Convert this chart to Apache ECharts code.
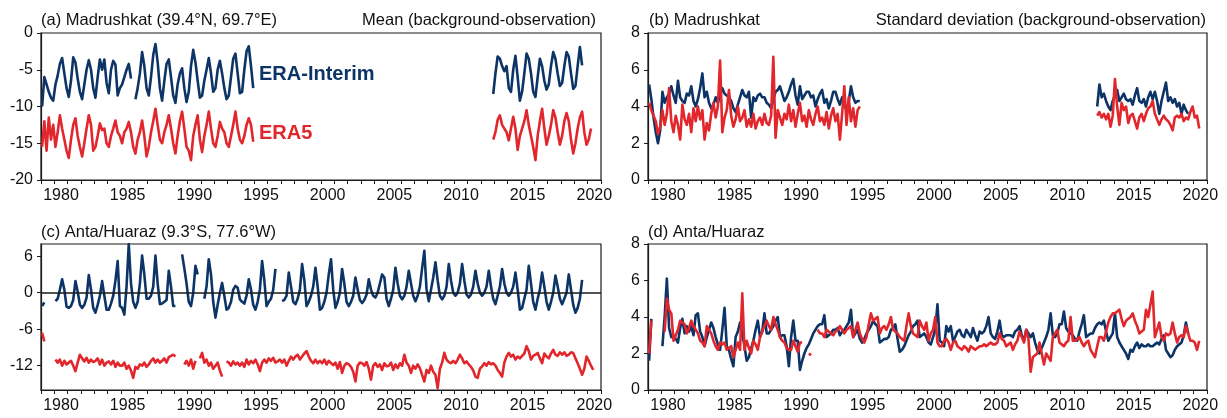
<!DOCTYPE html>
<html><head><meta charset="utf-8">
<script src="https://cdn.jsdelivr.net/npm/echarts@6/dist/echarts.min.js"></script>
<style>html,body{margin:0;padding:0;background:#fff}#c{width:1227px;height:418px}</style>
</head><body><div id="c"></div>
<script>
// ---- tick labels ----
const xLabelYears = [1980, 1985, 1990, 1995, 2000, 2005, 2010, 2015, 2020];
const yTicksA = [-20, -15, -10, -5, 0];
const yTicksBD = [0, 2, 4, 6, 8];
const yTicksC = [-12, -6, 0, 6];

// ---- data: bi-monthly samples, 6 per year, starting at the given year ----
// (a) Madrushkat mean, ERA-Interim
const A_EI_1_START = 1979;
const A_EI_1 = [
 -10.0,-6.0,-7.0,-8.0,-8.8,-9.2,  -7.0,-5.8,-4.2,-3.4,-5.5,-7.5,
 -8.7,-6.5,-3.3,-4.0,-6.2,-8.0,   -9.0,-7.0,-5.0,-3.7,-5.0,-7.5,
 -8.8,-6.0,-3.6,-5.0,-3.6,-6.8,   -8.2,-5.0,-3.8,-4.3,-8.5,-7.5,
 -7.0,-6.0,-5.0,-4.2,-6.2,null,   -9.0,-7.5,-5.5,-2.6,-4.5,-7.5,
 -8.5,-6.0,-3.0,-1.5,-4.0,-7.5,   -9.2,-6.5,-4.2,-3.6,-6.0,-8.5,
 -9.5,-7.0,-5.5,-4.8,-7.5,-9.4,   -8.0,-4.5,-2.3,-4.0,-6.5,-8.8,
 -8.5,-6.5,-5.0,-3.4,-5.5,-8.0,   -7.5,-5.0,-3.8,-5.5,-7.5,-9.0,
 -8.5,-6.0,-3.5,-2.8,-5.5,-8.2,   -8.0,-5.0,-2.5,-1.8,-4.5,-7.5
];
const A_EI_2_START = 2012;
const A_EI_2 = [
 null,null,null,null,null,-8.3,   -5.5,-3.2,-3.5,-4.5,-5.2,-4.5,
 -7.5,-8.0,-5.0,-3.1,-6.0,-9.2,   -8.0,-5.5,-2.8,-3.5,-5.5,-8.0,
 -8.7,-6.0,-3.5,-4.5,-6.5,-7.7,   -7.0,-4.5,-2.6,-3.5,-5.5,-7.2,
 -6.8,-4.5,-2.6,-3.2,-5.5,-7.6,   -7.2,-4.5,-1.9,-4.4,null,null
];
// (a) Madrushkat mean, ERA5
const A_E5_1_START = 1979;
const A_E5_1 = [
 -15.5,-12.0,-16.0,-11.5,-14.5,-12.5,  -15.5,-13.5,-11.2,-13.0,-14.5,-16.0,
 -17.0,-14.5,-12.5,-11.6,-14.0,-15.5,  -16.8,-15.0,-13.0,-11.2,-12.5,-16.0,
 -15.5,-14.0,-12.3,-13.2,-13.0,-15.0,  -15.5,-14.0,-13.0,-11.9,-13.5,-14.0,
 -15.0,-13.5,-13.0,-12.1,-13.5,-15.5,  -16.4,-14.5,-13.5,-11.9,-14.0,-16.8,
 -15.5,-13.5,-12.0,-10.3,-12.5,-14.5,  -15.0,-13.5,-12.5,-11.2,-13.0,-15.0,
 -16.4,-14.0,-12.0,-10.7,-13.0,-15.5,  -16.0,-17.3,-14.0,-12.5,-11.2,-14.5,
 -16.2,-14.0,-12.5,-10.7,-13.0,-15.0,  -15.5,-14.0,-12.1,-13.0,-13.5,-15.0,
 -15.5,-14.0,-12.5,-10.7,-13.0,-14.5,  -15.0,-14.0,-12.5,-11.6,-12.5,-14.8
];
const A_E5_2_START = 2012;
const A_E5_2 = [
 null,null,null,null,null,-14.5,       -13.5,-11.8,-11.2,-12.5,-13.0,-13.5,
 -14.6,-13.0,-11.4,-13.0,-15.9,-14.0,  -13.0,-12.0,-10.5,-12.5,-14.0,-15.5,
 -17.3,-14.0,-12.0,-10.3,-13.0,-15.2,  -14.0,-12.5,-10.5,-11.5,-13.5,-15.2,
 -14.0,-12.0,-10.9,-12.0,-14.5,-16.4,  -15.0,-13.0,-11.5,-10.7,-13.5,-15.2,
 -14.5,-13.0,null,null,null,null
];

// (b) Madrushkat standard deviation, ERA-Interim
const B_EI_1_START = 1979;
const B_EI_1 = [
 5.2,4.4,3.4,2.6,2.0,2.7,  4.8,4.2,4.5,4.7,5.1,4.6,
 4.2,5.4,4.5,4.3,4.2,4.7,  4.6,5.1,4.3,4.0,4.4,5.0,
 5.8,4.5,4.8,4.2,3.9,4.1,  4.5,4.2,4.6,5.0,4.7,4.6,
 4.5,4.3,3.9,3.7,4.1,4.5,  4.9,4.6,4.5,4.8,3.4,4.5,
 4.3,4.6,4.7,4.5,4.5,4.2,  4.1,3.9,4.4,4.8,4.9,5.1,
 4.7,4.3,4.5,4.8,5.2,5.5,  4.6,4.1,5.1,4.4,4.6,4.8,
 4.8,4.5,4.6,4.0,4.4,4.7,  4.9,4.2,4.4,3.9,4.3,4.8,
 4.8,4.4,4.1,4.5,4.1,3.8,  4.3,5.1,4.5,4.2,4.3,4.3
];
const B_EI_2_START = 2012;
const B_EI_2 = [
 null,null,null,null,4.0,5.2,  4.5,4.7,4.3,4.0,3.8,4.3,
 4.6,4.9,4.3,4.5,4.7,4.4,      4.3,4.4,4.1,4.6,5.0,4.3,
 4.2,4.4,4.0,4.5,4.8,4.4,      4.8,4.3,3.6,4.3,4.8,5.3,
 4.3,4.5,4.2,4.4,4.0,4.2,      3.6,4.1,3.8,3.6,null,null
];
// (b) Madrushkat standard deviation, ERA5
const B_E5_1_START = 1979;
const B_E5_1 = [
 4.2,3.8,3.5,3.2,2.5,2.9,  3.8,3.0,3.6,5.0,3.2,2.6,
 3.5,3.0,2.2,4.1,3.3,3.0,  3.6,2.6,3.9,3.2,4.0,3.3,
 3.8,2.2,3.1,2.7,3.6,4.2,  3.4,4.0,6.5,2.6,3.4,3.8,
 4.9,3.5,2.9,3.3,4.0,3.2,  3.4,3.8,2.9,3.3,2.9,3.6,
 2.8,3.2,3.4,3.0,3.6,3.1,  3.0,3.5,6.7,2.3,3.8,3.4,
 3.0,3.6,3.3,4.1,3.2,3.8,  2.9,3.6,4.2,3.2,3.5,2.9,
 3.8,3.3,3.0,3.6,4.0,3.2,  3.4,3.0,3.7,2.8,3.5,3.9,
 3.2,3.6,2.2,3.6,5.1,3.0,  4.5,3.2,3.9,2.9,3.8,4.0
];
const B_E5_2_START = 2012;
const B_E5_2 = [
 null,null,null,null,3.5,3.7,  3.4,3.6,3.3,3.6,2.9,3.5,
 5.5,4.0,3.0,4.2,3.8,4.0,      3.1,3.5,3.6,3.2,2.8,3.4,
 3.6,3.2,3.6,3.9,4.0,4.3,      3.6,3.3,3.0,3.3,3.5,3.3,
 3.2,3.0,2.7,3.4,3.5,3.4,      3.6,3.2,3.4,3.3,3.7,4.0,
 3.4,3.5,2.8,null,null,null
];

// (c) Anta/Huaraz mean, ERA-Interim (1979-2019)
const C_EI_START = 1979;
const C_EI = [
 -2.2,-1.6,null,null,null,null,  -1.4,-1.0,0.5,2.2,0.5,-2.3,
 -2.5,-2.2,-1.2,1.9,0.2,-2.0,    -2.5,-2.0,-0.8,2.9,0.5,-2.5,
 -3.3,-2.0,-0.5,1.9,-0.5,-2.8,   -2.8,-1.8,-0.5,2.0,5.2,-2.2,
 -2.5,-3.6,1.0,8.0,1.5,-1.5,     -2.5,-1.5,1.5,6.1,3.0,-1.0,
 -1.0,-0.5,1.0,6.1,1.5,-1.9,     -1.8,-1.5,-1.2,3.6,1.0,-2.2,
 -2.2,null,null,6.3,4.0,1.5,     -1.5,-2.2,0.0,4.4,3.0,null,
 null,-1.0,1.0,5.5,3.0,-1.5,     -4.1,-2.0,0.0,1.6,-0.5,-2.8,
 -2.5,-1.5,0.5,1.1,0.8,-1.1,     -1.5,-1.8,-0.5,2.2,0.5,-2.0,
 -2.8,-1.5,0.5,5.2,2.0,-2.2,     -1.5,-1.0,0.5,3.9,null,null,
 -1.4,-1.2,-0.5,3.3,1.0,-1.5,    -1.9,-1.0,0.5,4.7,2.0,-2.2,
 -1.5,-0.5,1.0,4.1,1.0,-2.8,     -2.5,-1.5,0.0,3.0,5.5,0.5,
 -2.5,-1.5,0.0,3.9,1.5,-1.5,     -2.2,-1.5,-0.5,2.5,0.5,-1.2,
 -1.7,-1.2,-0.3,2.2,0.5,-0.5,    -0.8,0.0,1.5,3.0,2.5,-1.0,
 -2.2,-1.0,0.5,4.1,1.5,-0.5,     -1.1,-0.5,1.0,3.6,1.5,-0.5,
 -1.4,-0.5,1.0,4.0,6.9,0.5,      -1.4,0.5,2.5,5.0,2.0,-0.5,
 -1.1,-0.5,1.0,4.7,2.0,0.0,      -0.5,0.0,1.5,4.7,2.0,-0.3,
 -0.8,-0.3,1.0,3.6,1.5,0.0,      -0.5,0.0,1.0,3.6,1.0,-1.0,
 -1.9,-0.5,1.0,3.9,1.5,0.0,      -0.5,0.0,1.0,3.3,0.5,-2.8,
 -2.5,-1.0,0.5,4.4,1.5,-1.5,     -2.8,-1.0,0.5,3.3,1.0,-1.5,
 -2.8,-1.5,0.0,2.8,1.0,-1.0,     -1.9,-1.0,0.0,3.0,0.5,-2.0,
 -3.3,-2.5,-1.0,2.1,null,null
];
// (c) Anta/Huaraz mean, ERA5 (1979-2020)
const C_E5_START = 1979;
const C_E5 = [
 -6.6,-8.0,null,null,null,null,        -11.0,-11.5,-11.0,-12.0,-11.2,-11.8,
 -11.5,-11.2,-12.0,-12.9,-11.5,-10.2,  -10.8,-11.3,-10.7,-11.5,-11.0,-11.4,
 -11.2,-10.8,-11.8,-11.0,-12.0,-11.5,  -11.3,-11.8,-11.2,-12.2,-11.5,-12.0,
 -12.0,-11.5,-12.5,-12.0,-12.8,-14.0,  -12.2,-12.5,-11.8,-12.0,-11.5,-12.2,
 -11.8,-11.2,-10.8,-11.5,-11.0,-11.5,  -11.2,-10.8,-11.5,-10.6,-10.4,-10.2,
 -10.5,null,null,null,-11.8,-11.2,     -12.0,-11.0,-12.5,-11.2,null,-10.8,
 -9.9,-11.5,-11.0,-12.0,-11.5,-12.5,   -12.0,-11.5,-12.8,-13.8,null,-11.3,
 -11.5,-12.0,-11.3,-11.8,-11.5,-12.0,  -11.5,-12.2,-11.0,-11.8,-11.2,-11.6,
 -11.0,-11.8,-12.9,-11.5,-11.0,-11.5,  -10.8,-11.2,-10.7,-11.5,-11.3,-11.0,
 -11.5,-11.0,-12.0,-11.2,-10.5,-11.0,  -10.5,-10.2,-11.0,-10.5,-10.0,-9.6,
 -10.5,-11.2,-11.6,-11.0,-11.6,-11.2,  -11.6,-11.0,-11.8,-11.2,-11.6,-11.9,
 -11.5,-12.5,-11.4,-13.2,-12.0,-11.6,  -11.8,-12.2,-13.0,-14.6,-12.0,-11.5,
 -11.6,-12.0,-11.4,-12.5,-14.3,-12.0,  -11.6,-12.2,-11.8,-12.7,-11.6,-12.1,
 -12.0,-11.5,-12.7,-11.8,-12.4,-11.6,  -12.0,-10.2,-11.5,-12.0,-13.2,-12.0,
 -12.5,-11.8,-12.4,-13.5,-14.6,-12.7,  -13.2,-12.0,-13.0,-13.5,-15.7,-12.5,
 -11.5,-9.9,-11.0,-11.4,-11.6,-11.2,   -11.6,-11.0,-10.2,-10.8,-11.6,-11.3,
 -11.8,-12.2,-12.8,-13.8,-14.0,-12.5,  -12.1,-11.6,-12.0,-11.4,-11.8,-11.6,
 -12.0,-12.7,-13.2,-13.8,-11.5,-10.5,  -9.9,-10.5,-10.2,-11.0,-10.5,-10.8,
 -10.4,-10.0,-8.8,-9.6,-11.0,-10.4,    -10.2,-9.9,-10.8,-11.6,-10.0,-10.5,
 -10.8,-10.0,-9.4,-10.2,-10.4,-9.8,    -10.2,-9.8,-10.4,-10.2,-9.8,-9.9,
 -10.8,-11.6,-12.5,-13.5,-12.5,-10.5,  -11.2,-12.0,-12.7,null,null,null
];

// (d) Anta/Huaraz standard deviation, ERA-Interim (1979-2019)
const D_EI_START = 1979;
const D_EI = [
 1.6,3.9,null,null,null,null,  2.4,4.0,6.1,3.4,2.9,3.0,
 2.8,2.6,3.4,3.9,3.1,3.5,      3.2,3.5,3.0,4.1,4.2,3.2,
 2.9,2.4,2.9,3.3,3.7,3.4,      2.9,2.5,2.2,3.3,4.5,2.4,
 2.2,1.7,1.3,2.9,3.2,3.7,      3.1,2.4,1.6,1.8,2.3,2.7,
 3.3,3.8,2.9,3.2,4.2,3.1,      3.1,3.3,3.5,3.8,4.0,2.9,
 3.0,3.0,2.4,1.3,2.9,3.8,      2.7,2.7,1.1,1.6,2.0,2.3,
 2.5,2.8,3.1,3.3,3.5,3.6,      3.6,4.1,2.9,3.0,3.1,3.3,
 3.3,3.4,3.0,3.2,3.3,3.5,      3.7,4.4,2.9,3.1,3.3,2.8,
 2.6,2.8,3.1,3.3,3.5,3.8,      3.6,3.5,2.6,2.7,2.8,2.8,
 2.9,3.3,3.4,3.6,2.8,2.1,      2.2,2.4,2.7,3.0,3.2,3.5,
 3.6,3.8,2.9,3.0,3.1,2.9,      2.6,2.5,2.9,3.3,4.7,2.7,
 2.6,2.4,3.5,3.2,3.5,2.7,      2.9,3.2,3.3,3.0,2.9,3.3,
 3.1,2.9,3.4,3.0,2.7,3.2,      3.1,3.2,3.5,4.0,3.1,2.9,
 2.8,3.2,3.8,3.0,2.9,3.0,      3.0,3.0,2.9,3.2,3.3,3.5,
 3.0,2.7,3.3,3.1,2.9,3.1,      2.6,2.2,2.0,2.3,2.6,2.9,
 3.3,4.2,3.0,2.9,3.1,3.6,      3.6,4.3,3.4,3.2,3.1,3.0,
 2.8,2.7,3.2,3.6,4.1,2.9,      3.0,3.1,3.1,3.4,3.6,3.7,
 3.6,3.8,3.2,2.7,2.9,3.1,      4.2,2.9,2.6,2.4,2.2,2.0,
 1.7,2.2,2.1,2.4,2.6,2.3,      2.5,2.4,2.4,2.5,2.4,2.4,
 2.5,2.6,2.5,2.8,3.0,2.2,      2.0,1.8,1.9,2.2,2.4,2.5,
 2.6,3.0,3.7,3.1,null,null
];
// (d) Anta/Huaraz standard deviation, ERA5 (1979-2020)
const D_E5_START = 1979;
const D_E5 = [
 2.0,3.8,null,null,null,null,  null,3.2,5.0,4.4,4.2,2.7,
 3.0,3.3,3.8,3.7,3.6,3.1,      3.4,3.8,3.5,3.3,3.1,2.7,
 2.6,2.4,3.5,3.3,3.1,2.7,      2.4,2.2,2.6,2.5,2.6,2.2,
 2.3,2.4,1.8,2.2,2.6,2.2,      5.3,2.2,2.7,2.3,2.0,2.7,
 2.5,2.2,2.9,3.2,3.5,3.8,      3.5,3.3,4.0,3.6,3.3,2.9,
 2.7,2.6,2.3,2.2,2.2,2.7,      2.4,2.1,2.6,2.6,null,null,
 2.0,1.9,null,null,3.3,3.1,    3.1,2.9,3.3,3.2,3.1,3.0,
 3.2,3.3,3.5,3.3,3.1,3.3,      3.4,3.5,2.9,3.3,3.7,3.1,
 2.8,2.6,2.9,3.6,4.2,3.8,      3.9,4.0,3.1,3.4,3.5,3.3,
 3.6,4.0,3.3,3.2,3.1,2.9,      2.8,2.7,3.5,4.2,3.5,3.1,
 3.0,2.9,3.8,3.5,3.3,3.7,      2.7,3.1,3.3,4.0,2.6,2.4,
 2.4,2.7,2.8,2.6,2.2,2.6,      2.7,2.4,2.3,2.2,2.4,2.3,
 2.1,2.4,2.3,2.2,2.3,2.4,      2.4,2.5,2.4,2.5,2.6,2.5,
 2.5,2.6,3.1,2.8,2.7,2.4,      2.5,2.6,2.2,2.5,2.7,3.2,
 2.9,2.6,3.3,2.8,1.0,1.8,      1.9,2.0,2.6,2.0,1.4,2.0,
 1.8,1.6,2.9,3.1,3.3,2.6,      2.5,2.4,2.6,2.7,4.0,2.7,
 2.7,2.8,2.9,2.6,2.4,2.6,      2.7,2.2,2.0,1.8,2.4,2.9,
 2.9,2.7,3.2,3.7,4.0,4.2,      4.2,4.3,4.4,3.9,3.5,3.8,
 3.9,4.0,4.2,3.8,3.5,3.1,      3.2,3.3,4.4,4.0,4.7,5.4,
 2.9,3.3,3.7,2.9,2.7,3.1,      3.0,3.1,3.7,3.1,2.6,2.9,
 3.0,2.9,3.5,3.1,2.7,2.7,      2.6,2.2,2.7,null,null,null
];

// ---- build ----
const BLUE = '#0c3466', RED = '#e1262c', INK = '#1a1a1a';
const FONT = 'Liberation Sans, Arial, sans-serif';
function pairs(start, vals) {
  return vals.map((v, i) => [start + (i + 0.5) / 6, v == null ? '-' : v]);
}
const X_MIN = 1979, X_MAX = 2021;
const yearTicks = [];
for (let y = X_MIN; y <= X_MAX; y++) yearTicks.push(y);
const labelPos = xLabelYears.map(y => y + 0.5);

const grids = [
  {left: 41, top: 33, width: 560, height: 147},
  {left: 648, top: 33, width: 559, height: 147},
  {left: 41, top: 244, width: 560, height: 146},
  {left: 648, top: 244, width: 559, height: 146}
].map(g => Object.assign({show: true, borderColor: INK, borderWidth: 1.2, backgroundColor: 'transparent'}, g));

const axisLineStyle = {show: true, onZero: false, lineStyle: {color: INK, width: 1.2}};
const labelStyle = {fontSize: 16, color: '#111', fontFamily: FONT};

const xAxes = [0, 1, 2, 3].map(i => ({
  gridIndex: i, type: 'value', min: X_MIN, max: X_MAX,
  splitLine: {show: false},
  axisLine: axisLineStyle,
  axisTick: {show: true, customValues: yearTicks, length: 4, inside: false, lineStyle: {color: INK, width: 1}},
  axisLabel: Object.assign({customValues: labelPos, margin: 8,
    formatter: v => String(Math.round(v - 0.5))}, labelStyle)
}));

function yAx(i, min, max, ticks) {
  return {
    gridIndex: i, type: 'value', min: min, max: max,
    splitLine: {show: false},
    axisLine: axisLineStyle,
    axisTick: {show: true, customValues: ticks, length: 4, lineStyle: {color: INK, width: 1}},
    axisLabel: Object.assign({customValues: ticks, margin: 8}, labelStyle)
  };
}
const yAxes = [
  yAx(0, -20, 0, yTicksA),
  yAx(1, 0, 8, yTicksBD),
  yAx(2, -16, 8, yTicksC),
  yAx(3, 0, 8, yTicksBD)
];

function line(data, color, gi, z) {
  return {type: 'line', data: data, xAxisIndex: gi, yAxisIndex: gi,
    showSymbol: false, symbol: 'none', connectNulls: false, animation: false,
    lineStyle: {color: color, width: 2.6, join: 'round'}, itemStyle: {color: color}, z: z};
}

const series = [
  line(pairs(A_EI_1_START, A_EI_1).concat(pairs(A_EI_2_START, A_EI_2)), BLUE, 0, 3),
  line(pairs(A_E5_1_START, A_E5_1).concat(pairs(A_E5_2_START, A_E5_2)), RED, 0, 4),
  line(pairs(B_EI_1_START, B_EI_1).concat(pairs(B_EI_2_START, B_EI_2)), BLUE, 1, 3),
  line(pairs(B_E5_1_START, B_E5_1).concat(pairs(B_E5_2_START, B_E5_2)), RED, 1, 4),
  {type: 'line', data: [], xAxisIndex: 2, yAxisIndex: 2, z: 2, animation: false,
   markLine: {silent: true, symbol: 'none', animation: false, label: {show: false},
     lineStyle: {color: INK, width: 1.6, type: 'solid'}, data: [{yAxis: 0}]}},
  line(pairs(C_EI_START, C_EI), BLUE, 2, 3),
  line(pairs(C_E5_START, C_E5), RED, 2, 4),
  line(pairs(D_EI_START, D_EI), BLUE, 3, 3),
  line(pairs(D_E5_START, D_E5), RED, 3, 4)
];

function txt(s, x, y, opts) {
  return {type: 'text', x: x, y: y, z: 10, silent: true,
    style: Object.assign({text: s, fill: '#111', font: '16.5px ' + FONT,
      align: 'left', verticalAlign: 'middle', textAlign: 'left', textVerticalAlign: 'middle'}, opts || {})};
}
const graphics = [
  txt('(a) Madrushkat (39.4°N, 69.7°E)', 41, 20),
  txt('Mean (background-observation)', 596, 20, {align: 'right', textAlign: 'right'}),
  txt('(b) Madrushkat', 649, 20),
  txt('Standard deviation (background-observation)', 1206, 20, {align: 'right', textAlign: 'right'}),
  txt('(c) Anta/Huaraz (9.3°S, 77.6°W)', 41, 232),
  txt('(d) Anta/Huaraz', 648, 232),
  txt('ERA-Interim', 259, 74, {fill: BLUE, font: 'bold 20px ' + FONT}),
  txt('ERA5', 259, 133, {fill: RED, font: 'bold 20px ' + FONT})
];

const chart = echarts.init(document.getElementById('c'), null, {renderer: 'canvas'});
chart.setOption({
  animation: false,
  backgroundColor: '#fff',
  grid: grids,
  xAxis: xAxes,
  yAxis: yAxes,
  series: series,
  graphic: graphics
});
</script>
</body></html>
